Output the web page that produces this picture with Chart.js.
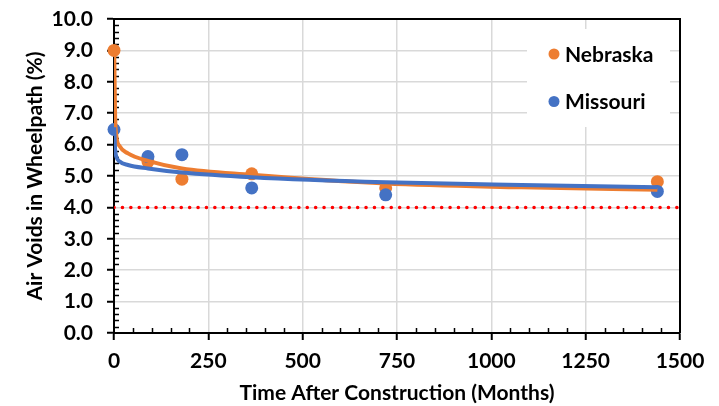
<!DOCTYPE html>
<html>
<head>
<meta charset="utf-8">
<script src="https://cdn.jsdelivr.net/npm/chart.js@4.4.1/dist/chart.umd.min.js"></script>
<style>
  html, body { margin: 0; padding: 0; background: #fff; }
  #wrap { width: 719px; height: 406px; }
</style>
</head>
<body>
<div id="wrap"><canvas id="voids"></canvas></div>
<script>
// measured points
var months = [0, 90, 180, 365, 720, 1440];
var nebraska = [9.0, 5.46, 4.9, 5.07, 4.62, 4.82];
var missouri = [6.48, 5.62, 5.68, 4.62, 4.4, 4.51];

// trendlines
var trendMonths = [0.5, 3, 6, 15, 37, 90, 180, 365, 720, 1080, 1440];
var nebraskaTrend = [9.0, 6.9, 6.3, 5.95, 5.72, 5.48, 5.24, 5.04, 4.76, 4.64, 4.56];
var missouriTrend = [6.55, 5.85, 5.62, 5.46, 5.35, 5.24, 5.11, 4.96, 4.8, 4.71, 4.64];

var limitMonths = [0, 1500];
var limitValue = 4.0;

var ORANGE = "#ED7D31";
var BLUE = "#4472C4";
var FONT = "Lato";
var FSIZE = 21;

function pts(xs, ys) {
  return xs.map(function (x, i) { return { x: x, y: ys[i] }; });
}

var frame = {
  id: "frame",
  beforeDatasetsDraw: function (chart) {
    var ctx = chart.ctx, a = chart.chartArea;
    var xs = chart.scales.x, ys = chart.scales.y;
    // minor ticks, inside
    ctx.save();
    ctx.strokeStyle = "#000";
    ctx.lineWidth = 1.5;
    ctx.beginPath();
    for (var m = 50; m < 1500; m += 50) {
      if (m % 250 === 0) continue;
      var px = Math.round(xs.getPixelForValue(m)) + 0.5;
      ctx.moveTo(px, a.bottom);
      ctx.lineTo(px, a.bottom - 5);
    }
    for (var k = 1; k < 50; k++) {
      if (k % 5 === 0) continue;
      var py = Math.round(ys.getPixelForValue(k * 0.2)) + 0.5;
      ctx.moveTo(a.left, py);
      ctx.lineTo(a.left + 5, py);
    }
    ctx.stroke();

    // legend box
    var lx = a.right - 153, ly = a.top + 10;
    ctx.fillStyle = "#fff";
    ctx.fillRect(lx, ly, 143, 98);
    var items = [["Nebraska", ORANGE], ["Missouri", BLUE]];
    ctx.font = "bold " + FSIZE + "px " + FONT;
    ctx.textBaseline = "middle";
    items.forEach(function (it, i) {
      var cy = ly + 25 + i * 47.5;
      ctx.fillStyle = it[1];
      ctx.beginPath();
      ctx.arc(lx + 27, cy, 5.5, 0, Math.PI * 2);
      ctx.fill();
      ctx.fillStyle = "#000";
      ctx.fillText(it[0], lx + 38, cy + 1);
    });
    ctx.restore();
  },
  afterDraw: function (chart) {
    var ctx = chart.ctx, a = chart.chartArea;
    ctx.save();
    ctx.strokeStyle = "#000";
    ctx.lineWidth = 2;
    ctx.beginPath();
    ctx.moveTo(a.left, a.top);
    ctx.lineTo(a.right, a.top);
    ctx.lineTo(a.right, a.bottom);
    ctx.stroke();
    ctx.restore();
  }
};

var tickFont = { family: FONT, size: FSIZE, weight: "bold" };

new Chart(document.getElementById("voids"), {
  type: "scatter",
  data: {
    datasets: [
      {
        label: "Missouri trend",
        type: "line",
        data: pts(trendMonths, missouriTrend),
        borderColor: BLUE,
        borderWidth: 4,
        pointRadius: 0,
        cubicInterpolationMode: "monotone",
        order: 0
      },
      {
        label: "Nebraska trend",
        type: "line",
        data: pts(trendMonths, nebraskaTrend),
        borderColor: ORANGE,
        borderWidth: 4,
        pointRadius: 0,
        cubicInterpolationMode: "monotone",
        order: 1
      },
      {
        label: "Missouri",
        data: pts(months, missouri),
        backgroundColor: BLUE,
        borderWidth: 0,
        pointRadius: 6.5,
        clip: false,
        order: 2
      },
      {
        label: "Nebraska",
        data: pts(months, nebraska),
        backgroundColor: ORANGE,
        borderWidth: 0,
        pointRadius: 6.5,
        clip: false,
        order: 3
      },
      {
        label: "Limit",
        type: "line",
        data: limitMonths.map(function (m) { return { x: m, y: limitValue }; }),
        borderColor: "#FF0000",
        borderWidth: 3.5,
        borderDash: [0.1, 8.3],
        borderCapStyle: "round",
        pointRadius: 0,
        order: 4
      }
    ]
  },
  options: {
    responsive: true,
    maintainAspectRatio: false,
    animation: false,
    layout: { padding: { left: 0, right: 39, top: 19, bottom: 0 } },
    plugins: {
      legend: { display: false },
      tooltip: { enabled: false }
    },
    scales: {
      x: {
        type: "linear",
        min: 0,
        max: 1500,
        ticks: {
          stepSize: 250,
          color: "#000",
          padding: 9,
          callback: function (v) { return String(v); },
          font: tickFont
        },
        grid: { color: "#D9D9D9", lineWidth: 1.5, tickColor: "#000", tickLength: 7, tickWidth: 2 },
        border: { display: true, color: "#000", width: 2 },
        title: {
          display: true,
          text: "Time After Construction (Months)",
          color: "#000",
          font: tickFont,
          padding: { top: 2, bottom: 0 }
        },
        afterFit: function (s) { s.height = 73; s.paddingLeft = 0; s.paddingRight = 0; }
      },
      y: {
        min: 0,
        max: 10,
        ticks: {
          stepSize: 1,
          color: "#000",
          padding: 14,
          callback: function (v) { return v.toFixed(1); },
          font: tickFont
        },
        grid: { color: "#D9D9D9", lineWidth: 1.5, tickColor: "#000", tickLength: 7, tickWidth: 2 },
        border: { display: true, color: "#000", width: 2 },
        title: {
          display: true,
          text: "Air Voids in Wheelpath (%)",
          color: "#000",
          font: tickFont,
          padding: { top: 23, bottom: 0 }
        },
        afterFit: function (s) { s.width = 114; s.paddingTop = 0; s.paddingBottom = 0; }
      }
    }
  },
  plugins: [frame]
});
</script>
</body>
</html>
